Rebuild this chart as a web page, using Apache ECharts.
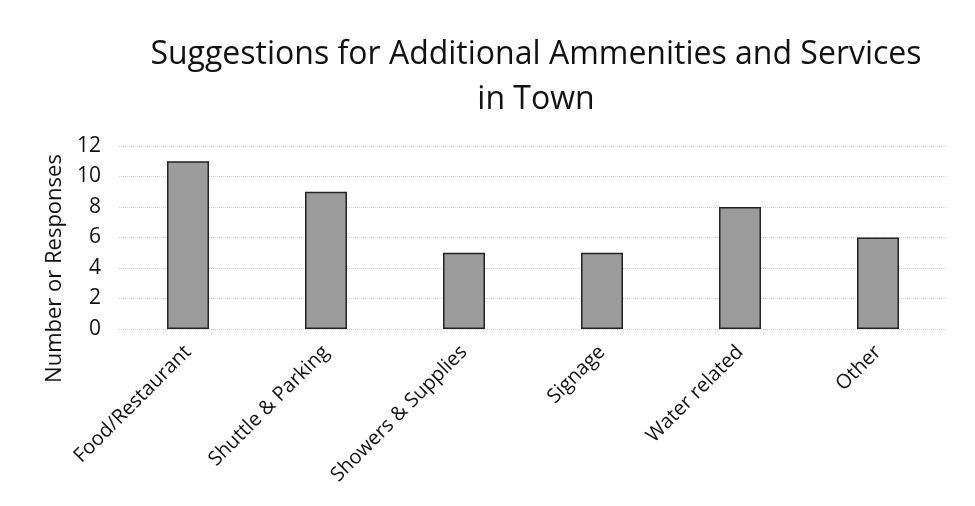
<!DOCTYPE html>
<html><head><meta charset="utf-8">
<script src="https://cdn.jsdelivr.net/npm/echarts@6/dist/echarts.min.js"></script>
<style>html,body{margin:0;padding:0;background:#fff}#c{width:975px;height:506px}</style>
</head><body><div id="c"></div>
<script>
const categories = ["Food/Restaurant", "Shuttle & Parking", "Showers & Supplies", "Signage", "Water related", "Other"];
const responses = [11, 9, 5, 5, 8, 6];
const yTicks = [0, 2, 4, 6, 8, 10, 12];
const titleText = "Suggestions for Additional Ammenities and Services\nin Town";
const yAxisTitle = "Number or Responses";

const FONT = "Open Sans";
const chart = echarts.init(document.getElementById('c'), null, {renderer: 'canvas'});
chart.setOption({
  animation: false,
  backgroundColor: '#fff',
  title: {
    text: titleText, left: 531, top: 27, textAlign: 'center',
    textStyle: {fontFamily: FONT, fontSize: 32, fontWeight: 'normal', color: '#111', lineHeight: 45}
  },
  grid: {left: 119, right: 28, top: 146, bottom: 177},
  xAxis: {
    type: 'category', data: categories,
    axisLine: {show: false}, axisTick: {show: false},
    axisLabel: {rotate: 45, fontFamily: FONT, fontSize: 20, color: '#111', margin: 20, interval: 0}
  },
  yAxis: {
    type: 'value', min: yTicks[0], max: yTicks[yTicks.length - 1], interval: 2,
    name: yAxisTitle, nameLocation: 'middle', nameGap: 40,
    nameTextStyle: {fontFamily: FONT, fontSize: 22, color: '#111', padding: [0, 62, 0, 0]},
    axisLine: {show: false}, axisTick: {show: false},
    axisLabel: {fontFamily: FONT, fontSize: 21, color: '#111', margin: 18},
    splitLine: {lineStyle: {color: '#cfcfcf', type: 'dotted', width: 1}}
  },
  series: [{
    type: 'bar', data: responses, barWidth: 42,
    itemStyle: {color: '#9c9c9c', borderColor: '#222', borderWidth: 1.5}
  }]
});
</script></body></html>
